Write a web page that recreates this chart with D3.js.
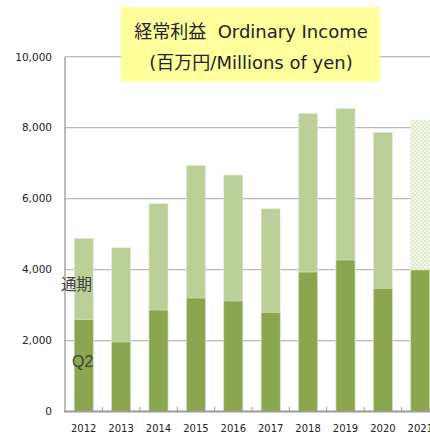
<!DOCTYPE html>
<html><head><meta charset="utf-8">
<script src="https://cdn.jsdelivr.net/npm/d3@7"></script>
<style>body{margin:0;background:#fff;overflow:hidden}</style>
</head><body>
<script>
const years = ["2012","2013","2014","2015","2016","2017","2018","2019","2020","2021"];
const fullYear = [4880,4620,5860,6940,6665,5715,8405,8545,7870,8215];
const q2 = [2590,1960,2860,3200,3115,2795,3930,4270,3470,3990];
const forecast = [false,false,false,false,false,false,false,false,false,true];
const yTicks = [0,2000,4000,6000,8000,10000];
const titleLines = ["経常利益  Ordinary Income","(百万円/Millions of yen)"];
const seriesLabels = ["通期","Q2"];

const W=430,H=433;
const svg=d3.select("body").append("svg").attr("width",W).attr("height",H);
const defs=svg.append("defs");
const pat=defs.append("pattern").attr("id","chk").attr("patternUnits","userSpaceOnUse").attr("width",4).attr("height",4);
pat.append("rect").attr("width",4).attr("height",4).attr("fill","#f4f8ee");
pat.append("rect").attr("width",2).attr("height",2).attr("fill","#dde8c9");
pat.append("rect").attr("x",2).attr("y",2).attr("width",2).attr("height",2).attr("fill","#dde8c9");

const x=d3.scaleBand().domain(years).range([65,65+37.4*years.length]).paddingInner(0.49).paddingOuter(0.245);
const y=d3.scaleLinear().domain([0,10000]).range([411.5,56.7]);

// gridlines
svg.append("g").selectAll("line").data(yTicks.filter(d=>d>0)).join("line")
 .attr("x1",65).attr("x2",W).attr("y1",d=>y(d)).attr("y2",d=>y(d))
 .attr("stroke","#b8b8b8").attr("stroke-width",1.2);

// y labels
svg.append("g").selectAll("text").data(yTicks).join("text")
 .attr("x",52).attr("y",d=>y(d)+3.8).attr("text-anchor","end")
 .attr("font-family","DejaVu Sans").attr("font-size",10.5).attr("fill","#222")
 .text(d=>d3.format(",")(d));

// bars
const g=svg.append("g");
years.forEach((yr,i)=>{
  g.append("rect").attr("x",x(yr)).attr("width",x.bandwidth())
   .attr("y",y(fullYear[i])).attr("height",y(0)-y(fullYear[i]))
   .attr("fill",forecast[i]?"url(#chk)":"#bccf98")
   .attr("stroke","#e8efdc").attr("stroke-width",0.6);
  g.append("rect").attr("x",x(yr)).attr("width",x.bandwidth())
   .attr("y",y(q2[i])).attr("height",y(0)-y(q2[i]))
   .attr("fill","#8aa64f").attr("stroke","#dfe8cf").attr("stroke-width",0.6);
});

// axes
svg.append("line").attr("x1",65).attr("x2",65).attr("y1",y(10000)).attr("y2",y(0)).attr("stroke","#a6a6a6").attr("stroke-width",1.5);
svg.append("line").attr("x1",64).attr("x2",W).attr("y1",y(0)).attr("y2",y(0)).attr("stroke","#9a9a9a").attr("stroke-width",2);
svg.append("g").selectAll("line").data(years.slice(1)).join("line")
 .attr("x1",d=>x(d)-x.step()*0.245).attr("x2",d=>x(d)-x.step()*0.245)
 .attr("y1",y(0)).attr("y2",y(0)-4.5).attr("stroke","#9a9a9a").attr("stroke-width",1);

// x labels
svg.append("g").selectAll("text").data(years).join("text")
 .attr("x",d=>x(d)+x.bandwidth()/2).attr("y",431.5).attr("text-anchor","middle")
 .attr("font-family","DejaVu Sans").attr("font-size",10).attr("fill","#222").text(d=>d);

// series labels
svg.append("text").attr("x",61).attr("y",290).attr("font-family","Noto Sans CJK JP").attr("font-size",15.5).attr("fill","#404040").text(seriesLabels[0]);
svg.append("text").attr("x",72).attr("y",366.5).attr("font-family","Liberation Sans").attr("font-size",16).attr("fill","#404040").text(seriesLabels[1]);

// title box
svg.append("rect").attr("x",121).attr("y",7).attr("width",259).attr("height",74.5).attr("fill","#ffff9c");
svg.append("g").selectAll("text").data(titleLines).join("text")
 .attr("x",251).attr("y",(d,i)=>38+i*31).attr("text-anchor","middle")
 .attr("font-family","DejaVu Sans, Noto Sans CJK JP").attr("font-size",18).attr("fill","#222")
 .style("white-space","pre")
 .text(d=>d);
</script>
</body></html>
